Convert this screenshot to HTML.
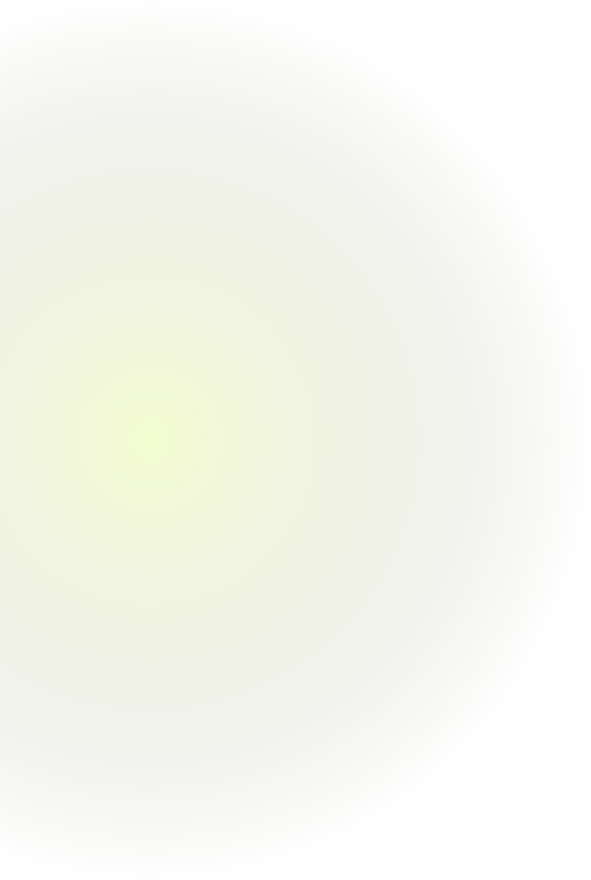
<!DOCTYPE html>
<html>
<head>
<meta charset="utf-8">
<style>
  html, body { margin: 0; padding: 0; width: 591px; height: 880px; overflow: hidden; background: #ffffff; }
  .bg {
    position: absolute; left: 0; top: 0; width: 591px; height: 880px;
    background: radial-gradient(circle 445px at 150px 440px,
      #f4fdd0 0px,
      #f2f8d8 60px,
      #f1f4e0 140px,
      #f0f2e6 240px,
      #f2f2ee 320px,
      #f8f8f6 390px,
      #ffffff 445px);
  }
</style>
</head>
<body>
  <div class="bg"></div>
</body>
</html>
